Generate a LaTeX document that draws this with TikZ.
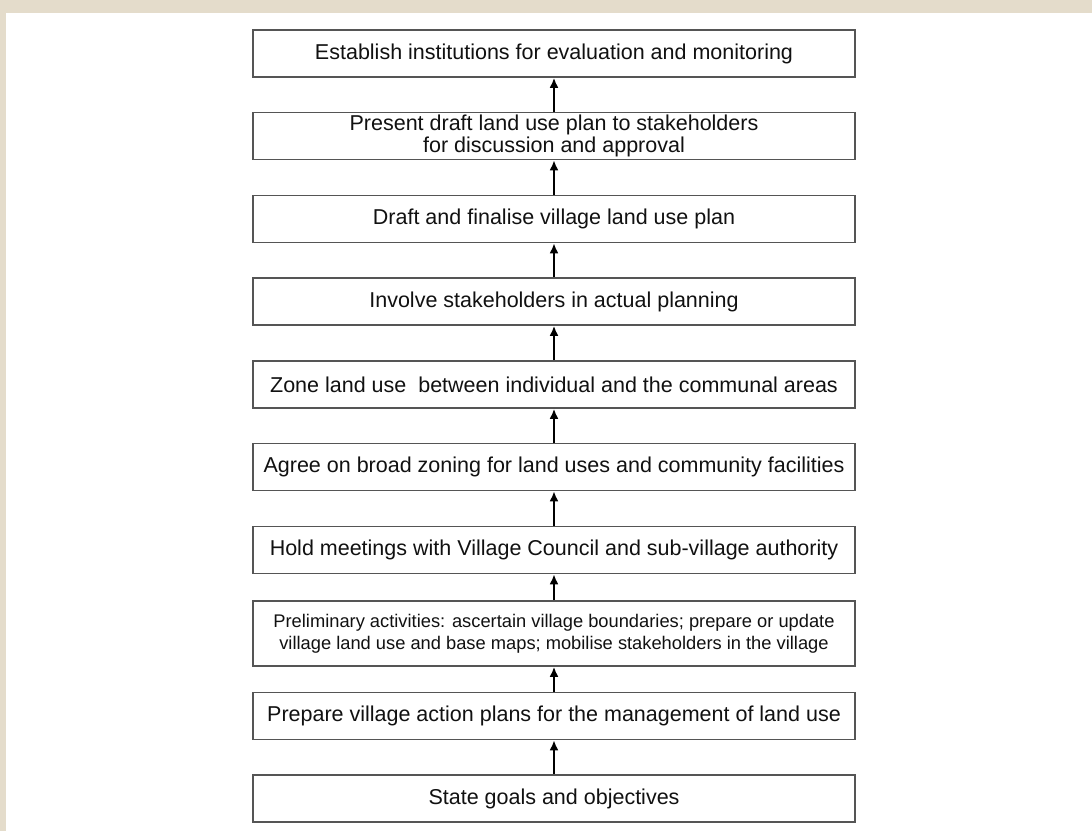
\documentclass[tikz,border=0pt]{standalone}
\usepackage{fontspec}
\setmainfont{Liberation Sans}
\usetikzlibrary{arrows.meta}
\definecolor{beige}{HTML}{E4DCCB}
\definecolor{boxline}{HTML}{555555}
\definecolor{txt}{HTML}{111111}
\tikzset{
  stepbox/.style={draw=boxline, line width=1.6pt, fill=white, minimum width=602pt,
    minimum height=47pt, inner sep=0pt, align=center, text=txt,
    font=\fontsize{21.5}{22.8}\selectfont},
  smallbox/.style={stepbox, minimum height=65pt, font=\fontsize{18.3}{22}\selectfont},
  flow/.style={draw=black, line width=2pt, -{Latex[length=10pt,width=9pt]}}
}
\begin{document}
\begin{tikzpicture}[x=1pt,y=-1pt]
\fill[beige] (0,0) rectangle (1092,831);
\fill[white] (6,13) rectangle (1092,831);
\useasboundingbox (0,0) rectangle (1092,831);
\node[stepbox] (b1) at (554,53.5) {Establish institutions for evaluation and monitoring};
\node[stepbox] (b2) at (554,136) {Present draft land use plan to stakeholders\\for discussion and approval};
\node[stepbox] (b3) at (554,219) {Draft and finalise village land use plan};
\node[stepbox] (b4) at (554,301.5) {Involve stakeholders in actual planning};
\node[stepbox] (b5) at (554,384.5) {Zone land use\ \ between individual and the communal areas};
\node[stepbox] (b6) at (554,467) {Agree on broad zoning for land uses and community facilities};
\node[stepbox] (b7) at (554,550) {Hold meetings with Village Council and sub-village authority};
\node[smallbox] (b8) at (554,633.5) {Preliminary activities: ascertain village boundaries; prepare or update\\village land use and base maps; mobilise stakeholders in the village};
\node[stepbox] (b9) at (554,716) {Prepare village action plans for the management of land use};
\node[stepbox] (b10) at (554,798.5) {State goals and objectives};
\draw[flow] (b2.north) -- (b1.south);
\draw[flow] (b3.north) -- (b2.south);
\draw[flow] (b4.north) -- (b3.south);
\draw[flow] (b5.north) -- (b4.south);
\draw[flow] (b6.north) -- (b5.south);
\draw[flow] (b7.north) -- (b6.south);
\draw[flow] (b8.north) -- (b7.south);
\draw[flow] (b9.north) -- (b8.south);
\draw[flow] (b10.north) -- (b9.south);
\end{tikzpicture}
\end{document}
